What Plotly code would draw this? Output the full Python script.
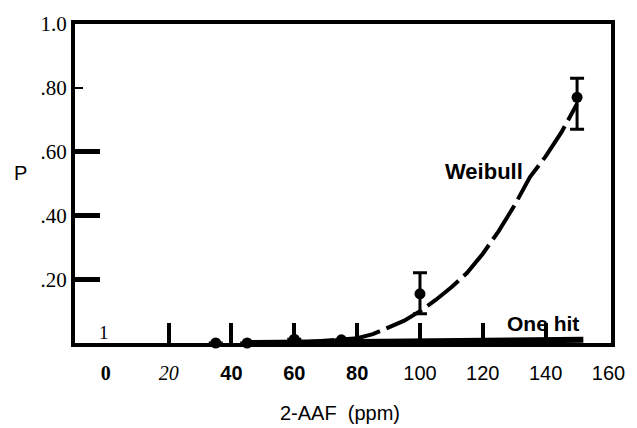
import plotly.graph_objects as go

# ---- data ----
dose = [35, 45, 60, 75, 100, 150]
p_obs = [0.0, 0.0, 0.012, 0.01, 0.154, 0.77]
err_plus = [0, 0, 0, 0, 0.066, 0.06]
err_minus = [0, 0, 0, 0, 0.062, 0.10]

weibull_x = [60, 65, 70, 75, 80, 85, 90, 95, 100, 105, 110, 115, 120, 125, 130, 135, 140, 145, 150]
weibull_p = [0.0, 0.003, 0.006, 0.01, 0.015, 0.028, 0.05, 0.07, 0.1, 0.135, 0.175, 0.22, 0.28, 0.35, 0.43, 0.52, 0.585, 0.66, 0.75]

onehit_x = [45, 60, 80, 100, 120, 140, 152]
onehit_p = [0.0, 0.002, 0.004, 0.006, 0.008, 0.009, 0.01]

x_tickvals = [0, 20, 40, 60, 80, 100, 120, 140, 160]
x_ticktext = ['<span style="font-family:Liberation Serif"><b>0</b></span>',
              '<span style="font-family:Liberation Serif"><i>20</i></span>',
              '<b>40</b>', '<b>60</b>', '<b>80</b>', '100', '120', '140', '160']
x_tickmarks = [20, 40, 60, 80, 100, 120, 140]

y_tickvals = [0.2, 0.4, 0.6, 0.8, 1.0]
y_ticktext = ['.20', '.40', '.60', '.80', '1.0']
y_tickmarks = [0.2, 0.4, 0.6]
y_minor_marks = [0.8]

XR = [-9.8, 160.8]
YR = [0, 1.0]

fig = go.Figure()
fig.add_trace(go.Scatter(x=onehit_x, y=onehit_p, mode='lines',
                         line=dict(color='black', width=6), cliponaxis=False,
                         showlegend=False, hoverinfo='skip'))
fig.add_trace(go.Scatter(x=weibull_x, y=weibull_p, mode='lines',
                         line=dict(color='black', width=4, dash='40px,7px'),
                         cliponaxis=False, showlegend=False, hoverinfo='skip'))
fig.add_trace(go.Scatter(x=dose, y=p_obs, mode='markers',
                         marker=dict(color='black', size=11),
                         error_y=dict(type='data', symmetric=False, array=err_plus,
                                      arrayminus=err_minus, color='black',
                                      thickness=3, width=7),
                         cliponaxis=False, showlegend=False))
# empty helper traces so the tick-only overlay axes get drawn
fig.add_trace(go.Scatter(x=[None], y=[None], xaxis='x2', yaxis='y', mode='lines',
                         showlegend=False, hoverinfo='skip'))
fig.add_trace(go.Scatter(x=[None], y=[None], xaxis='x', yaxis='y2', mode='lines',
                         showlegend=False, hoverinfo='skip'))

fig.add_annotation(x=120.3, y=0.538, text='<b>Weibull</b>', showarrow=False,
                   xanchor='center', yanchor='middle',
                   font=dict(family='Liberation Sans', size=22, color='black'))
fig.add_annotation(x=139.1, y=0.062, text='<b>One hit</b>', showarrow=False,
                   xanchor='center', yanchor='middle',
                   font=dict(family='Liberation Sans', size=21, color='black'))
fig.add_annotation(x=-0.5, y=0.034, text='1', showarrow=False,
                   xanchor='center', yanchor='middle',
                   font=dict(family='Liberation Serif', size=19, color='black'))
fig.add_annotation(xref='paper', yref='paper', x=-0.102, y=0.532, text='P',
                   showarrow=False, xanchor='center', yanchor='middle',
                   font=dict(family='Liberation Sans', size=20, color='black'))
fig.add_annotation(xref='paper', yref='paper', x=0.495, y=-0.218,
                   text='2-AAF&nbsp;&nbsp;(ppm)', showarrow=False,
                   xanchor='center', yanchor='middle',
                   font=dict(family='Liberation Sans', size=20, color='black'))

fig.update_layout(
    width=637, height=428,
    margin=dict(l=75, r=12, t=18, b=85),
    paper_bgcolor='white', plot_bgcolor='white',
    xaxis=dict(range=XR, tickmode='array', tickvals=x_tickvals, ticktext=x_ticktext,
               ticks='', showline=True, linewidth=4, linecolor='black', mirror=True,
               showgrid=False, zeroline=False, ticklabelstandoff=9,
               tickfont=dict(family='Liberation Sans', size=20, color='black')),
    xaxis2=dict(range=XR, overlaying='x', anchor='y', side='bottom',
                tickmode='array', tickvals=x_tickmarks, ticks='inside', ticklen=20,
                tickwidth=4, tickcolor='black', showticklabels=False,
                showline=False, showgrid=False, zeroline=False),
    yaxis=dict(range=YR, tickmode='array', tickvals=y_tickvals, ticktext=y_ticktext,
               ticks='', showline=True, linewidth=4, linecolor='black', mirror=True,
               showgrid=False, zeroline=False,
               tickfont=dict(family='Liberation Serif', size=21, color='black')),
    yaxis2=dict(range=YR, overlaying='y', anchor='x', side='left',
                tickmode='array', tickvals=y_tickmarks, ticks='inside', ticklen=25,
                tickwidth=5, tickcolor='black', showticklabels=False,
                showline=False, showgrid=False, zeroline=False,
                minor=dict(tickmode='array', tickvals=y_minor_marks, ticks='inside',
                           ticklen=8, tickwidth=2, tickcolor='black')),
)

fig.write_html('out.html', config={'displayModeBar': False},
               post_script="document.body.style.margin='0';document.body.style.overflow='hidden';")
